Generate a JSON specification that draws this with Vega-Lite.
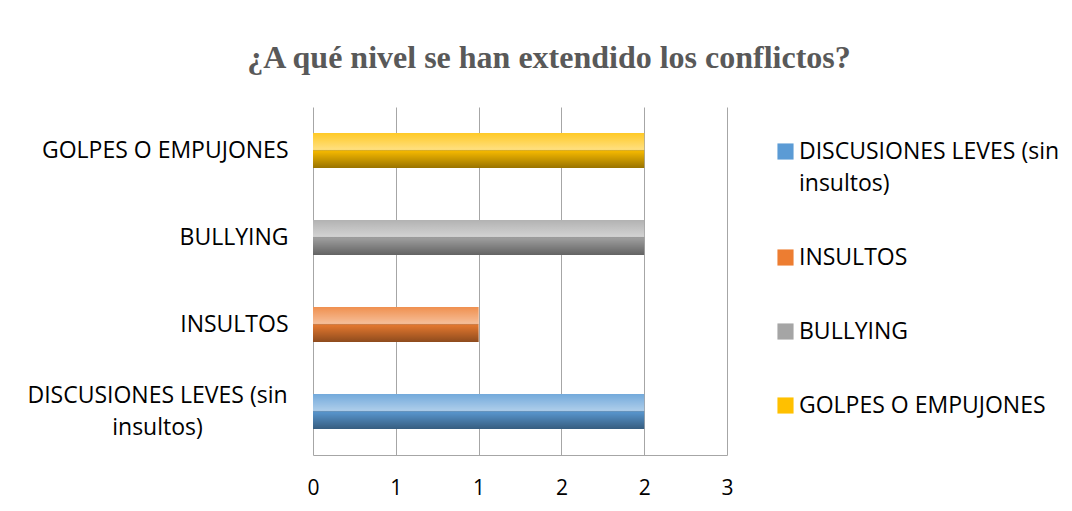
{
  "$schema": "https://vega.github.io/schema/vega-lite/v6.json",
  "width": 414,
  "height": 348,
  "autosize": {"type": "none"},
  "padding": {"left": 313, "top": 107, "right": 345, "bottom": 56},
  "background": "white",
  "config": {
    "view": {"stroke": null},
    "style": {"guide-label": {"lineHeight": 32}}
  },
  "title": {
    "text": "¿A qué nivel se han extendido los conflictos?",
    "font": "Liberation Serif",
    "fontSize": 32,
    "fontWeight": "bold",
    "color": "#595959",
    "anchor": "middle",
    "dx": 29,
    "offset": 32
  },
  "data": {
    "values": [
      {"categoria": "DISCUSIONES LEVES (sin insultos)", "valor": 2},
      {"categoria": "INSULTOS", "valor": 1},
      {"categoria": "BULLYING", "valor": 2},
      {"categoria": "GOLPES O EMPUJONES", "valor": 2}
    ]
  },
  "encoding": {
    "y": {
      "field": "categoria",
      "type": "nominal",
      "sort": ["GOLPES O EMPUJONES", "BULLYING", "INSULTOS", "DISCUSIONES LEVES (sin insultos)"],
      "scale": {"paddingInner": 0.6, "paddingOuter": 0.3},
      "axis": {
        "title": null,
        "ticks": false,
        "domain": false,
        "grid": false,
        "labelFont": "Open Sans",
        "labelFontSize": 23,
        "labelColor": "#000000",
        "labelLimit": 400,
        "labelLineHeight": 32,
        "labelPadding": {"condition": {"test": "datum.value == 'DISCUSIONES LEVES (sin insultos)'", "value": 156}, "value": 25},
        "labelAlign": {"condition": {"test": "datum.value == 'DISCUSIONES LEVES (sin insultos)'", "value": "center"}, "value": "right"},
        "labelOffset": {"condition": {"test": "datum.value == 'DISCUSIONES LEVES (sin insultos)'", "value": -16}, "value": 0},
        "labelExpr": "datum.value == 'DISCUSIONES LEVES (sin insultos)' ? ['DISCUSIONES LEVES (sin', 'insultos)'] : datum.label"
      }
    },
    "x": {
      "field": "valor",
      "type": "quantitative",
      "scale": {"domain": [0, 2.5], "nice": false},
      "axis": {
        "title": null,
        "values": [0, 0.5, 1, 1.5, 2, 2.5],
        "labelExpr": "'' + round(datum.value)",
        "labelFlush": false,
        "grid": true,
        "gridColor": "#a6a6a6",
        "domainColor": "#a6a6a6",
        "ticks": false,
        "labelPadding": 22,
        "labelFont": "Open Sans",
        "labelFontSize": 21,
        "labelColor": "#000000"
      }
    }
  },
  "layer": [
    {
      "mark": {"type": "bar"},
      "encoding": {
        "color": {
          "field": "categoria",
          "type": "nominal",
          "scale": {
            "domain": ["DISCUSIONES LEVES (sin insultos)", "INSULTOS", "BULLYING", "GOLPES O EMPUJONES"],
            "range": ["#5B9BD5", "#ED7D31", "#A5A5A5", "#FFC000"]
          },
          "legend": {
            "title": null,
            "orient": "none",
            "legendX": 461,
            "legendY": 33,
            "symbolType": "square",
            "symbolSize": 260,
            "symbolStrokeWidth": 0,
            "labelFont": "Open Sans",
            "labelFontSize": 23,
            "labelColor": "#000000",
            "labelLimit": 400,
            "rowPadding": 50,
            "labelOffset": 2,
            "labelExpr": "datum.value == 'DISCUSIONES LEVES (sin insultos)' ? ['DISCUSIONES LEVES (sin', 'insultos)'] : datum.label"
          }
        }
      }
    },
    {
      "mark": {
        "type": "bar",
        "color": {
          "gradient": "linear",
          "x1": 0, "y1": 0, "x2": 0, "y2": 1,
          "stops": [
            {"offset": 0, "color": "rgba(255,255,255,0.15)"},
            {"offset": 0.47, "color": "rgba(255,255,255,0.5)"},
            {"offset": 0.53, "color": "rgba(0,0,0,0.05)"},
            {"offset": 1, "color": "rgba(0,0,0,0.4)"}
          ]
        }
      }
    }
  ]
}
